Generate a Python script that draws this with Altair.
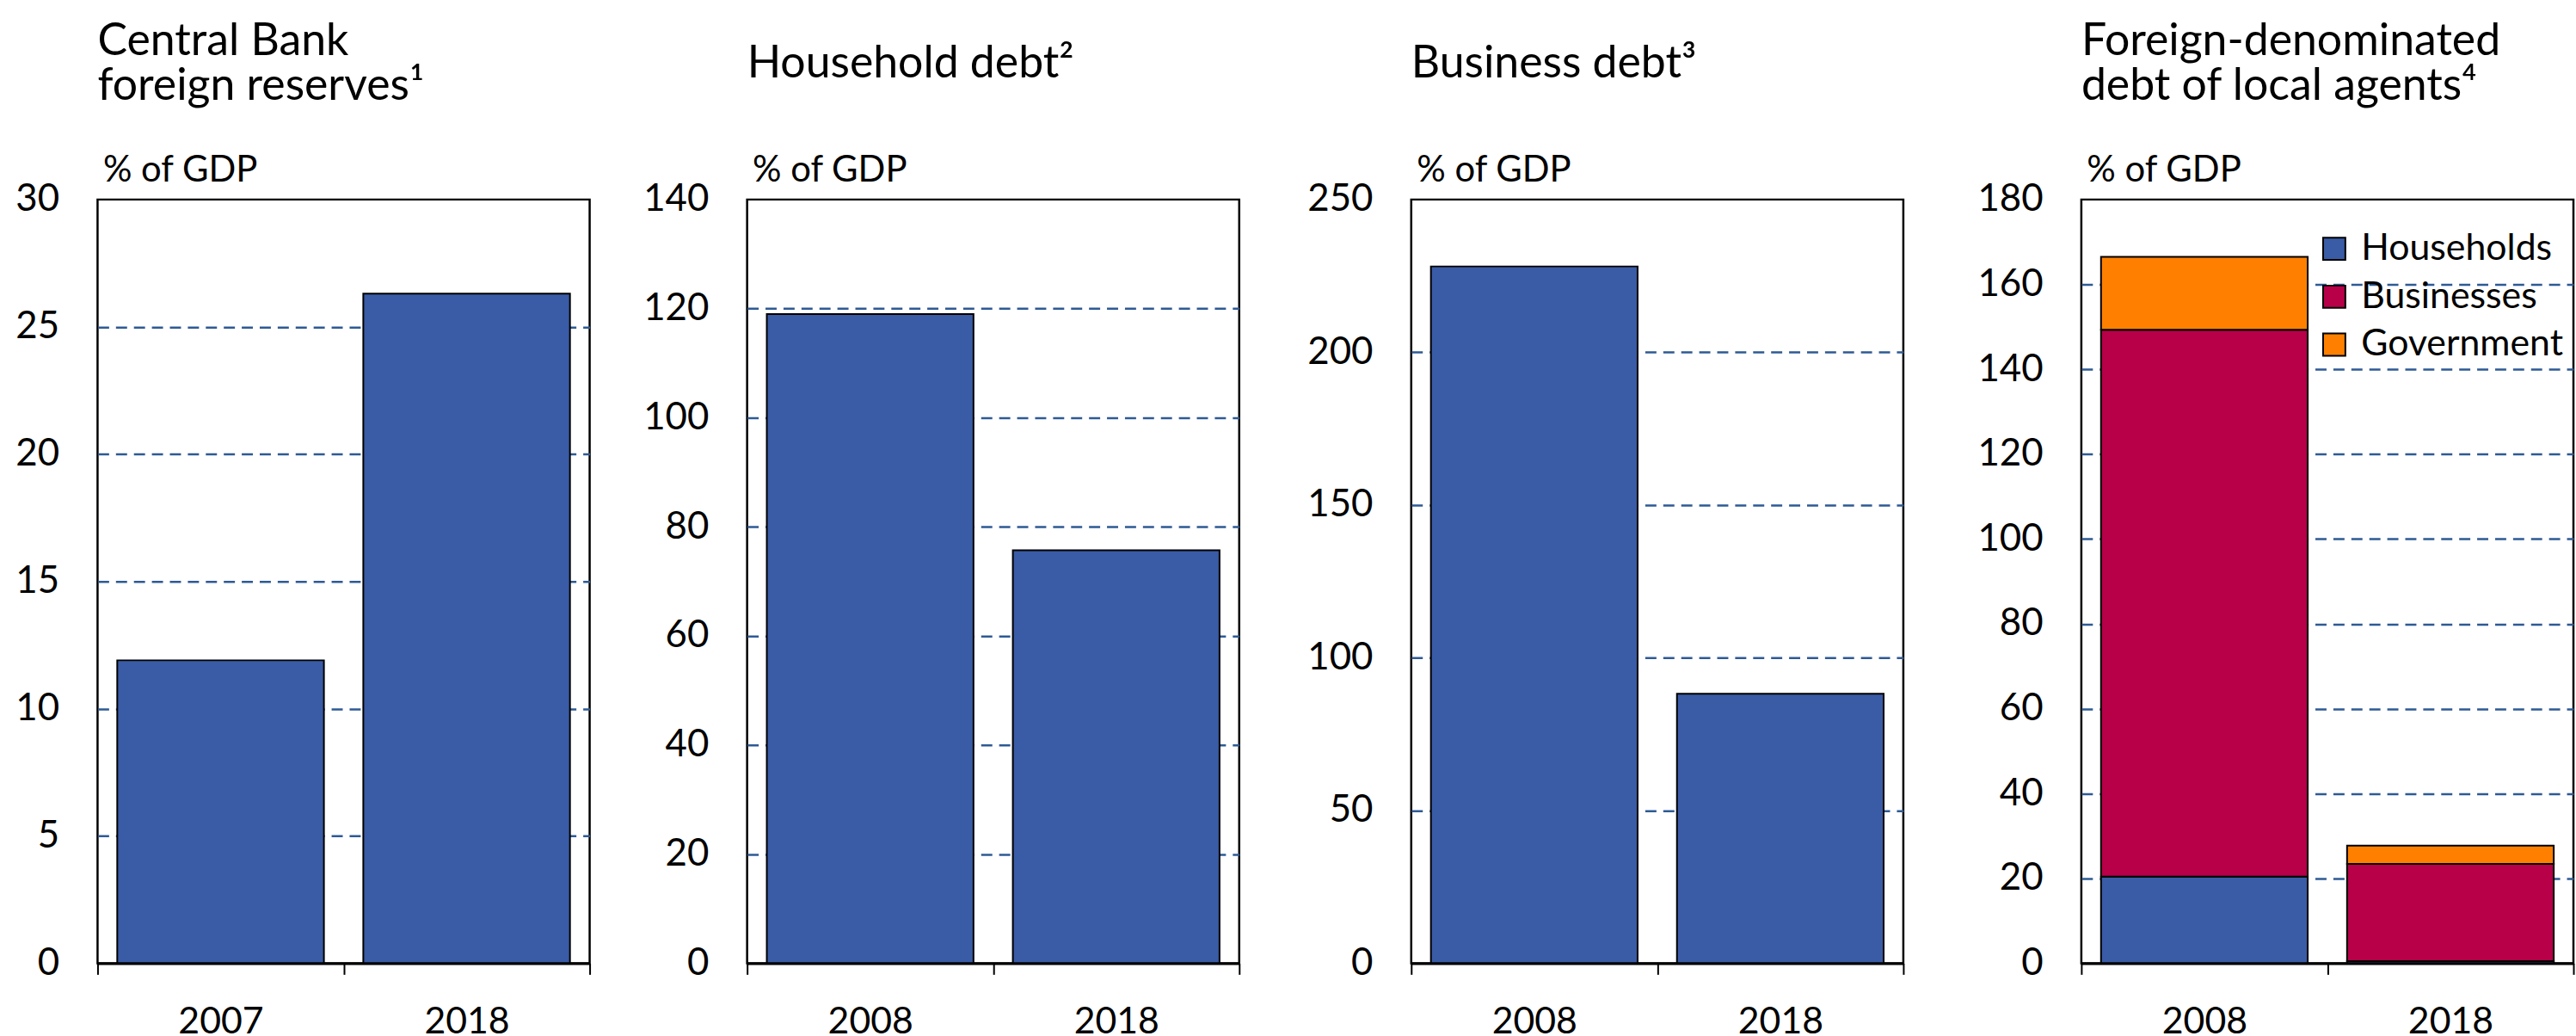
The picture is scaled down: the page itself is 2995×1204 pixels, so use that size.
import altair as alt
import pandas as pd

FONT = "Lato"

# ---- data ----
p1_years = ["2007", "2018"]
p1_values = [11.9, 26.3]

p2_years = ["2008", "2018"]
p2_values = [119.0, 75.7]

p3_years = ["2008", "2018"]
p3_values = [228.1, 88.2]

p4_years = ["2008", "2018"]
p4_series = ["Households", "Businesses", "Government"]
p4_households = [20.4, 0.5]
p4_businesses = [128.9, 22.9]
p4_government = [17.2, 4.3]

titles = [
    ["Central Bank", "foreign reserves\u00b9"],
    "Household debt\u00b2",
    "Business debt\u00b3",
    ["Foreign-denominated", "debt of local agents\u2074"],
]
y_max = [30, 140, 250, 180]
y_step = [5, 20, 50, 20]

# ---- styling ----
BLUE = "#3A5BA6"
CRIMSON = "#B70048"
ORANGE = "#FF8000"
GRID = "#2E5A94"
W, H = 575, 892
extents = [112, 179, 196, 203]


def x_enc():
    return alt.X(
        "year:N", sort=None,
        scale=alt.Scale(paddingInner=0, paddingOuter=0),
        axis=alt.Axis(
            title=None, labelAngle=0, tickBand="extent", ticks=True, tickSize=13,
            tickColor="black", tickWidth=2, domainColor="black", domainWidth=3,
            labelFont=FONT, labelFontSize=43, labelColor="black", labelPadding=34,
            grid=False, zindex=1,
        ),
    )


def y_enc(i):
    top = y_max[i]
    return alt.Y(
        "value:Q", stack="zero",
        scale=alt.Scale(domain=[0, top], nice=False, zero=True),
        axis=alt.Axis(
            values=list(range(0, top + 1, y_step[i])),
            title="% of GDP", titleAngle=0, titleX=6, titleY=-21, titleAlign="left",
            titleBaseline="alphabetic", titleFont=FONT, titleFontSize=42,
            titleFontWeight="normal", titleColor="black",
            labelFont=FONT, labelFontSize=44, labelColor="black", labelPadding=45,
            ticks=False, tickSize=0, domain=False,
            grid=True, gridColor=GRID, gridDash=[13, 8], gridWidth=2.5,
            gridOpacity={"condition": {"test": f"datum.value == 0 || datum.value == {top}", "value": 0}, "value": 1},
            minExtent=extents[i], maxExtent=extents[i],
        ),
    )


def title_params(i):
    two = isinstance(titles[i], list)
    return alt.TitleParams(
        text=titles[i], anchor="start", frame="group", orient="top",
        offset=50 if two else 77, font=FONT, fontSize=52, fontWeight="normal",
        color="black", lineHeight=53,
    )


def simple_panel(i, years, values):
    df = pd.DataFrame({"year": years, "value": values})
    return (
        alt.Chart(df, title=title_params(i))
        .mark_bar(width={"band": 0.84}, color=BLUE, stroke="black", strokeWidth=2)
        .encode(x=x_enc(), y=y_enc(i))
        .properties(width=W, height=H)
    )


c1 = simple_panel(0, p1_years, p1_values)
c2 = simple_panel(1, p2_years, p2_values)
c3 = simple_panel(2, p3_years, p3_values)

rows = []
for yi, yr in enumerate(p4_years):
    for si, (name, vals) in enumerate(zip(p4_series, [p4_households, p4_businesses, p4_government])):
        rows.append({"year": yr, "series": name, "value": vals[yi], "ord": si})
df4 = pd.DataFrame(rows)

c4 = (
    alt.Chart(df4, title=title_params(3))
    .mark_bar(width={"band": 0.84}, stroke="black", strokeWidth=2, opacity=1)
    .encode(
        x=x_enc(),
        y=y_enc(3),
        color=alt.Color(
            "series:N",
            scale=alt.Scale(domain=p4_series, range=[BLUE, CRIMSON, ORANGE]),
            legend=alt.Legend(
                title=None, orient="none", legendX=2592, legendY=36, padding=0,
                symbolType="square", symbolSize=676, symbolStrokeColor="black",
                symbolStrokeWidth=2, symbolOpacity=1, labelFont=FONT,
                labelFontSize=43, labelColor="black", rowPadding=12, labelOffset=10,
                labelLimit=0,
            ),
        ),
        order=alt.Order("ord:Q"),
    )
    .properties(width=W, height=H)
)

chart = (
    alt.hconcat(c1, c2, c3, c4, spacing=0)
    .properties(padding={"left": 0, "right": 0, "top": 17, "bottom": 0}, background="white")
    .configure_view(stroke="black", strokeWidth=2.5)
)

chart.save("out.html", embed_options={"renderer": "svg", "actions": False})
